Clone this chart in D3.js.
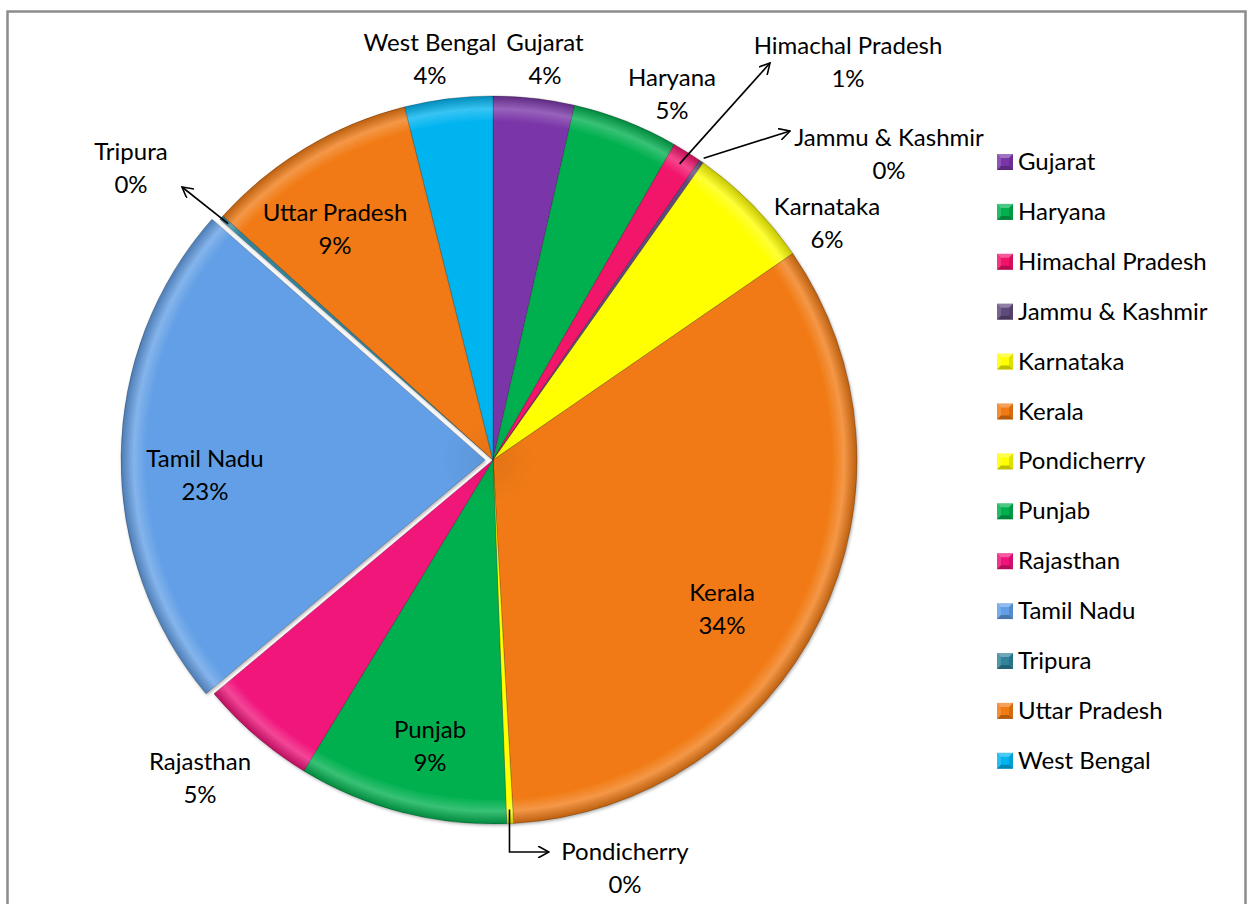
<!DOCTYPE html>
<html>
<head>
<meta charset="utf-8">
<script src="https://cdn.jsdelivr.net/npm/d3@7"></script>
<style>
  html, body { margin: 0; padding: 0; background: #fff; }
  svg { display: block; }
  text { font-family: Lato, "Open Sans", sans-serif; fill: #000; }
</style>
</head>
<body>
<svg id="chart" width="1250" height="904"></svg>
<script>
// State-wise share (percent)
const states = ["Gujarat", "Haryana", "Himachal Pradesh", "Jammu & Kashmir", "Karnataka", "Kerala",
  "Pondicherry", "Punjab", "Rajasthan", "Tamil Nadu", "Tripura", "Uttar Pradesh", "West Bengal"];
const shares = [3.6, 4.7, 1.3, 0.2, 5.6, 33.7, 0.3, 9.3, 5.2, 22.6, 0.2, 9.4, 3.9];
const colors = ["#7A36A8", "#00B04F", "#F2126B", "#604A7B", "#FFFF00", "#F17A13",
  "#FFFF00", "#00B04F", "#F0127A", "#629FE6", "#31849B", "#F17A13", "#00B4F0"];

// Label placement (centre of the two-line label) for each slice
const labelPos = {
  "Gujarat": [545, 43], "Haryana": [672, 78], "Himachal Pradesh": [848, 46],
  "Jammu & Kashmir": [889, 138], "Karnataka": [827, 207], "Kerala": [722, 593],
  "Pondicherry": [625, 852], "Punjab": [430, 730], "Rajasthan": [200, 762],
  "Tamil Nadu": [205, 459], "Tripura": [131, 152], "Uttar Pradesh": [335, 213],
  "West Bengal": [430, 43]
};

const svg = d3.select("#chart");
const cx = 493, cy = 460, R = 364;

// chart frame
svg.append("path")
  .attr("d", "M7.5,920 V11.5 H1245.5 V920")
  .attr("fill", "none").attr("stroke", "#8c8c8c").attr("stroke-width", 2.5);

const defs = svg.append("defs");
// rim bevel shading shared by all slices
const bevel = defs.append("radialGradient").attr("id", "bevel")
  .attr("gradientUnits", "userSpaceOnUse").attr("cx", 0).attr("cy", 0).attr("r", R);
bevel.append("stop").attr("offset", 0).attr("stop-color", "#000").attr("stop-opacity", 0.06);
bevel.append("stop").attr("offset", 0.12).attr("stop-color", "#000").attr("stop-opacity", 0);
bevel.append("stop").attr("offset", 0.93).attr("stop-color", "#fff").attr("stop-opacity", 0);
bevel.append("stop").attr("offset", 0.965).attr("stop-color", "#fff").attr("stop-opacity", 0.22);
bevel.append("stop").attr("offset", 1).attr("stop-color", "#000").attr("stop-opacity", 0.22);

const shadow = defs.append("filter").attr("id", "shadow")
  .attr("x", "-10%").attr("y", "-10%").attr("width", "120%").attr("height", "120%");
shadow.append("feDropShadow").attr("dx", 1).attr("dy", 1.5).attr("stdDeviation", 1.5)
  .attr("flood-color", "#000").attr("flood-opacity", 0.3);

const data = states.map((s, i) => ({ state: s, value: shares[i], color: colors[i] }));
const pie = d3.pie().sort(null).value(d => d.value);
const arcs = pie(data);
const arc = d3.arc().innerRadius(0).outerRadius(R);

// exploded slice
const explode = { "Tamil Nadu": 8 };

const g = svg.append("g").attr("transform", `translate(${cx},${cy})`).attr("filter", "url(#shadow)");
const slices = g.selectAll("g.slice").data(arcs).join("g").attr("class", "slice")
  .attr("transform", d => {
    const off = explode[d.data.state] || 0;
    const a = (d.startAngle + d.endAngle) / 2;
    return `translate(${off * Math.sin(a)},${-off * Math.cos(a)})`;
  });
slices.append("path").attr("d", arc).attr("fill", d => d.data.color)
  .attr("stroke", "rgba(0,0,0,0.28)").attr("stroke-width", 0.8);
slices.append("path").attr("d", arc).attr("fill", "url(#bevel)");

// arrow marker for leader lines
defs.append("marker").attr("id", "arrow").attr("viewBox", "0 0 12 12")
  .attr("refX", 11).attr("refY", 6).attr("markerWidth", 12).attr("markerHeight", 12)
  .attr("markerUnits", "userSpaceOnUse").attr("orient", "auto")
  .append("path").attr("d", "M0,0 L11,6 L0,12").attr("fill", "none")
  .attr("stroke", "#000").attr("stroke-width", 1.6);

// leader lines for the thin slices: [start radius, end point]
const leaders = {
  "Himachal Pradesh": { r: 350, pts: [[770, 63]] },
  "Jammu & Kashmir": { r: 368, pts: [[790, 131]] },
  "Tripura": { r: 355, pts: [[182, 187]] },
  "Pondicherry": { r: 350, pts: [[511, 852], [549, 852]] }
};
arcs.forEach(d => {
  const L = leaders[d.data.state];
  if (!L) return;
  const a = (d.startAngle + d.endAngle) / 2;
  const start = [cx + L.r * Math.sin(a), cy - L.r * Math.cos(a)];
  if (d.data.state === "Pondicherry") L.pts[0][0] = start[0];
  svg.append("path")
    .attr("d", d3.line()([start, ...L.pts]))
    .attr("fill", "none").attr("stroke", "#000").attr("stroke-width", 1.6)
    .attr("marker-end", "url(#arrow)");
});

// data labels
const fontSize = 24;
const labels = svg.append("g").attr("font-size", fontSize);
arcs.forEach(d => {
  const [x, y] = labelPos[d.data.state];
  const t = labels.append("text").attr("text-anchor", "middle");
  t.append("tspan").attr("x", x).attr("y", y + 8).text(d.data.state);
  t.append("tspan").attr("x", x).attr("y", y + 41).text(Math.round(d.data.value) + "%");
});

// legend
const legend = svg.append("g").attr("transform", "translate(997,162)");
const rowH = 49.9;
const items = legend.selectAll("g").data(data).join("g")
  .attr("transform", (d, i) => `translate(0,${i * rowH})`);
items.append("rect").attr("x", 0).attr("y", -8).attr("width", 16).attr("height", 16)
  .attr("fill", d => d.color);
// pyramid bevel on legend keys
items.append("path").attr("d", "M0,-8 L16,-8 L12,-4 L4,-4 Z").attr("fill", "#fff").attr("opacity", 0.3);
items.append("path").attr("d", "M0,8 L16,8 L12,4 L4,4 Z").attr("fill", "#000").attr("opacity", 0.25);
items.append("path").attr("d", "M16,-8 L16,8 L12,4 L12,-4 Z").attr("fill", "#000").attr("opacity", 0.12);
items.append("path").attr("d", "M0,-8 L0,8 L4,4 L4,-4 Z").attr("fill", "#fff").attr("opacity", 0.15);
items.append("text").attr("x", 21).attr("y", 8).attr("font-size", fontSize).text(d => d.state);
</script>
</body>
</html>
